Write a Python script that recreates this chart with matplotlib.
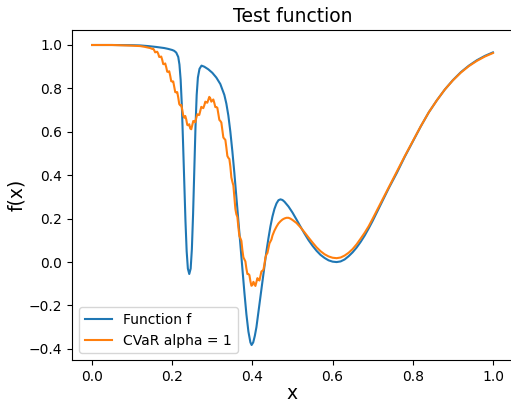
import numpy as np
import matplotlib.pyplot as plt

# test function f sampled on [0, 1]: (x, f(x))
f_points = [
    (0.00, 1.000), (0.05, 1.000), (0.10, 0.999), (0.12, 0.998), (0.14, 0.995),
    (0.16, 0.991), (0.18, 0.986), (0.19, 0.982), (0.20, 0.977), (0.205, 0.973),
    (0.21, 0.965), (0.215, 0.945), (0.218, 0.910), (0.221, 0.840), (0.224, 0.720),
    (0.227, 0.550), (0.230, 0.370), (0.233, 0.190), (0.236, 0.050), (0.239, -0.030),
    (0.2425, -0.055), (0.246, -0.030), (0.249, 0.060), (0.252, 0.220), (0.255, 0.420),
    (0.258, 0.620), (0.261, 0.770), (0.264, 0.850), (0.268, 0.890), (0.273, 0.905),
    (0.28, 0.900), (0.29, 0.888), (0.30, 0.872), (0.31, 0.850), (0.32, 0.820),
    (0.33, 0.770), (0.335, 0.730), (0.34, 0.675), (0.345, 0.600), (0.35, 0.510),
    (0.355, 0.410), (0.36, 0.300), (0.365, 0.190), (0.37, 0.080), (0.375, -0.030),
    (0.38, -0.140), (0.385, -0.240), (0.39, -0.320), (0.395, -0.370), (0.398, -0.382),
    (0.402, -0.370), (0.406, -0.340), (0.41, -0.300), (0.415, -0.230), (0.42, -0.160),
    (0.425, -0.090), (0.43, -0.020), (0.435, 0.050), (0.44, 0.110), (0.445, 0.165),
    (0.45, 0.210), (0.455, 0.245), (0.46, 0.270), (0.465, 0.285), (0.47, 0.289),
    (0.475, 0.286), (0.48, 0.278), (0.49, 0.256), (0.50, 0.228), (0.51, 0.196),
    (0.52, 0.163), (0.53, 0.131), (0.54, 0.101), (0.55, 0.075), (0.56, 0.052),
    (0.57, 0.033), (0.58, 0.019), (0.59, 0.008), (0.60, 0.002), (0.61, 0.000),
    (0.62, 0.003), (0.63, 0.012), (0.64, 0.027), (0.65, 0.045), (0.66, 0.067),
    (0.67, 0.093), (0.68, 0.122), (0.69, 0.155), (0.70, 0.190), (0.72, 0.265),
    (0.74, 0.340), (0.76, 0.410), (0.78, 0.485), (0.80, 0.555), (0.82, 0.625),
    (0.84, 0.690), (0.86, 0.745), (0.88, 0.795), (0.90, 0.838), (0.92, 0.875),
    (0.94, 0.905), (0.96, 0.930), (0.98, 0.950), (1.00, 0.966),
]

# CVaR estimate with alpha = 1 (noisy sample estimate)
cvar_points = [
    (0.00, 1.000), (0.05, 1.000), (0.10, 0.997), (0.12, 0.995), (0.13, 0.992),
    (0.14, 0.988), (0.145, 0.986), (0.15, 0.982), (0.1525, 0.983), (0.155, 0.976),
    (0.1575, 0.966), (0.16, 0.968), (0.1625, 0.969), (0.165, 0.960), (0.1675, 0.945),
    (0.17, 0.945), (0.1725, 0.947), (0.175, 0.932), (0.1775, 0.912), (0.18, 0.912),
    (0.1825, 0.915), (0.185, 0.898), (0.1875, 0.877), (0.19, 0.876), (0.1925, 0.879),
    (0.195, 0.858), (0.1975, 0.833), (0.20, 0.832), (0.2025, 0.832), (0.205, 0.808),
    (0.2075, 0.783), (0.21, 0.782), (0.2125, 0.783), (0.215, 0.758), (0.2175, 0.728),
    (0.22, 0.722), (0.2225, 0.724), (0.225, 0.702), (0.2275, 0.674), (0.23, 0.665),
    (0.2325, 0.673), (0.235, 0.657), (0.2375, 0.632), (0.24, 0.630), (0.2425, 0.635),
    (0.245, 0.615), (0.2475, 0.612), (0.25, 0.632), (0.2525, 0.650), (0.255, 0.648),
    (0.2575, 0.644), (0.26, 0.664), (0.2625, 0.681), (0.265, 0.678), (0.2675, 0.678),
    (0.27, 0.697), (0.2725, 0.715), (0.275, 0.712), (0.2775, 0.709), (0.28, 0.722),
    (0.2825, 0.739), (0.285, 0.736), (0.2875, 0.734), (0.29, 0.748), (0.2925, 0.761),
    (0.295, 0.754), (0.2975, 0.739), (0.30, 0.744), (0.3025, 0.749), (0.305, 0.733),
    (0.3075, 0.714), (0.31, 0.714), (0.3125, 0.711), (0.315, 0.683), (0.3175, 0.655),
    (0.32, 0.650), (0.3225, 0.643), (0.325, 0.608), (0.3275, 0.574), (0.33, 0.568),
    (0.3325, 0.563), (0.335, 0.528), (0.3375, 0.489), (0.34, 0.480), (0.3425, 0.475),
    (0.345, 0.440), (0.3475, 0.390), (0.35, 0.370), (0.3525, 0.353), (0.355, 0.300),
    (0.3575, 0.245), (0.36, 0.220), (0.3625, 0.208), (0.365, 0.160), (0.3675, 0.120),
    (0.37, 0.110), (0.3725, 0.098), (0.375, 0.055), (0.3775, 0.022), (0.38, 0.012),
    (0.3825, 0.003), (0.385, -0.030), (0.3875, -0.055), (0.39, -0.055), (0.3925, -0.060),
    (0.395, -0.088), (0.3975, -0.109), (0.40, -0.106), (0.4025, -0.091), (0.405, -0.100),
    (0.4075, -0.110), (0.41, -0.092), (0.4125, -0.074), (0.415, -0.080), (0.4175, -0.085),
    (0.42, -0.065), (0.4225, -0.043), (0.425, -0.040), (0.4275, -0.035), (0.43, -0.010),
    (0.4325, 0.021), (0.435, 0.035), (0.4375, 0.042), (0.44, 0.065), (0.4425, 0.086),
    (0.445, 0.095), (0.4475, 0.104), (0.45, 0.122), (0.455, 0.145), (0.46, 0.163),
    (0.465, 0.178), (0.47, 0.188), (0.475, 0.196), (0.48, 0.201), (0.485, 0.204),
    (0.49, 0.204), (0.495, 0.200), (0.50, 0.194), (0.51, 0.180), (0.52, 0.160),
    (0.53, 0.137), (0.54, 0.113), (0.55, 0.090), (0.56, 0.068), (0.57, 0.050),
    (0.58, 0.036), (0.59, 0.026), (0.60, 0.020), (0.61, 0.018), (0.62, 0.021),
    (0.63, 0.030), (0.64, 0.043), (0.65, 0.060), (0.66, 0.082), (0.67, 0.108),
    (0.68, 0.135), (0.69, 0.165), (0.70, 0.200), (0.72, 0.272), (0.74, 0.345),
    (0.76, 0.415), (0.78, 0.488), (0.80, 0.557), (0.82, 0.626), (0.84, 0.690),
    (0.86, 0.745), (0.88, 0.795), (0.90, 0.837), (0.92, 0.873), (0.94, 0.903),
    (0.96, 0.927), (0.98, 0.947), (1.00, 0.963),
]

x_f, f_vals = zip(*f_points)
x_c, cvar_vals = zip(*cvar_points)

fig = plt.figure(figsize=(5.11, 4.01), dpi=100)
ax = fig.add_axes([72 / 511, 41 / 401, 441 / 511, 330 / 401])
ax.plot(x_f, f_vals, label="Function f")
ax.plot(x_c, cvar_vals, label="CVaR alpha = 1")
ax.set_title("Test function", fontsize=13.5)
ax.set_xlabel("x", fontsize=13.5, labelpad=0)
ax.set_ylabel("f(x)", fontsize=13.5, labelpad=2)
ax.legend(loc="lower left")
fig.savefig("out.png", dpi=100)
